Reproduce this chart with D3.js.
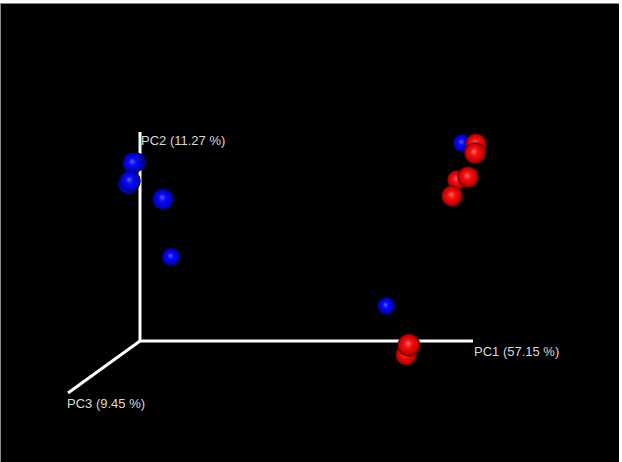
<!DOCTYPE html>
<html>
<head>
<style type="text/css">
	body{ margin:0; background:#fff; }
	.label{ font-family:"Liberation Sans", Arial, sans-serif; font-size:13px; fill:#d8d8d8; }
</style>
</head>
<body>
<div id="plot"></div>
<script src="https://d3js.org/d3.v7.min.js"></script>
<script type="text/javascript">
	// sample scores on the first three axes (scaled 0-100 along drawn axis length)
	var pc1 = [3.1, 4.4, 1.8, 3.5, 13.4, 11.5, 75.0, 98.4, 107.4, 107.5, 99.5, 105.0, 100.2, 86.4, 89.4];
	var pc2 = [90.6, 92.6, 81.3, 84.0, 75.4, 42.7, 18.0, 96.7, 101.7, 97.9, 82.0, 85.9, 76.8, 0.8, 8.0];
	var pc3 = [20, 30, 25, 30, 30, 10, 5, 8, 30, 32, 20, 30, 30, 30, 40];
	var groups = ["A","A","A","A","A","A","A","A","B","B","B","B","B","B","B"];
	var axisLabels = ["PC1 (57.15 %)", "PC2 (11.27 %)", "PC3 (9.45 %)"];

	var W = 622, H = 462;
	var origin = {x:140, y:341};

	var x = d3.scaleLinear().domain([0, 100]).range([origin.x, 473]);
	var y = d3.scaleLinear().domain([0, 100]).range([origin.y, 132]);
	// depth axis drawn as an oblique offset
	var zx = d3.scaleLinear().domain([0, 100]).range([0, -72]);
	var zy = d3.scaleLinear().domain([0, 100]).range([0, 52]);
	var r = d3.scaleLinear().domain([0, 40]).range([8.4, 11.4]);

	function px(a, c){ return x(a) + zx(c); }
	function py(b, c){ return y(b) + zy(c); }

	var svg = d3.select("#plot").append("svg")
		.attr("width", W)
		.attr("height", H);

	svg.append("rect").attr("x", 0).attr("y", 3).attr("width", 619).attr("height", H - 3).attr("fill", "#8a8a8a");
	svg.append("rect").attr("x", 1).attr("y", 4).attr("width", 618).attr("height", H - 4).attr("fill", "#000");

	var defs = svg.append("defs");
	var shades = {
		A: ["#5a5aff", "#0a0af5", "#0000c8", "#000060"],
		B: ["#ff6a6a", "#f51010", "#c80000", "#600000"]
	};
	Object.keys(shades).forEach(function(k){
		var g = defs.append("radialGradient")
			.attr("id", "ball" + k)
			.attr("cx", "50%").attr("cy", "50%").attr("r", "50%")
			.attr("fx", "45%").attr("fy", "42%");
		g.append("stop").attr("offset", "0%").attr("stop-color", shades[k][0]);
		g.append("stop").attr("offset", "35%").attr("stop-color", shades[k][1]);
		g.append("stop").attr("offset", "80%").attr("stop-color", shades[k][2]);
		g.append("stop").attr("offset", "100%").attr("stop-color", shades[k][3]);
	});

	//axes
	var axisG = svg.append("g").attr("stroke", "#fff").attr("stroke-width", 3).attr("stroke-linecap", "butt");
	axisG.append("line").attr("x1", x(0)).attr("y1", y(0)).attr("x2", x(100)).attr("y2", y(0));
	axisG.append("line").attr("x1", x(0)).attr("y1", y(0)).attr("x2", x(0)).attr("y2", y(100));
	axisG.append("line").attr("x1", x(0)).attr("y1", y(0)).attr("x2", x(0) + zx(100)).attr("y2", y(0) + zy(100));

	svg.append("text").attr("class", "label").attr("x", x(100) + 1).attr("y", y(0) + 15).text(axisLabels[0]);
	svg.append("text").attr("class", "label").attr("x", x(0) + 1).attr("y", y(100) + 13).text(axisLabels[1]);
	svg.append("text").attr("class", "label").attr("x", x(0) + zx(100) - 1).attr("y", y(0) + zy(100) + 15).text(axisLabels[2]);

	//points, far ones first
	var data = pc1.map(function(d, i){ return {a:d, b:pc2[i], c:pc3[i], g:groups[i]}; });
	data.sort(function(p, q){ return p.c - q.c; });

	svg.selectAll(".dot")
		.data(data)
		.enter()
		.append("circle")
		.attr("class", "dot")
		.attr("cx", function(d){ return px(d.a, d.c); })
		.attr("cy", function(d){ return py(d.b, d.c); })
		.attr("r", function(d){ return r(d.c); })
		.attr("fill", function(d){ return "url(#ball" + d.g + ")"; });
</script>
</body>
</html>
